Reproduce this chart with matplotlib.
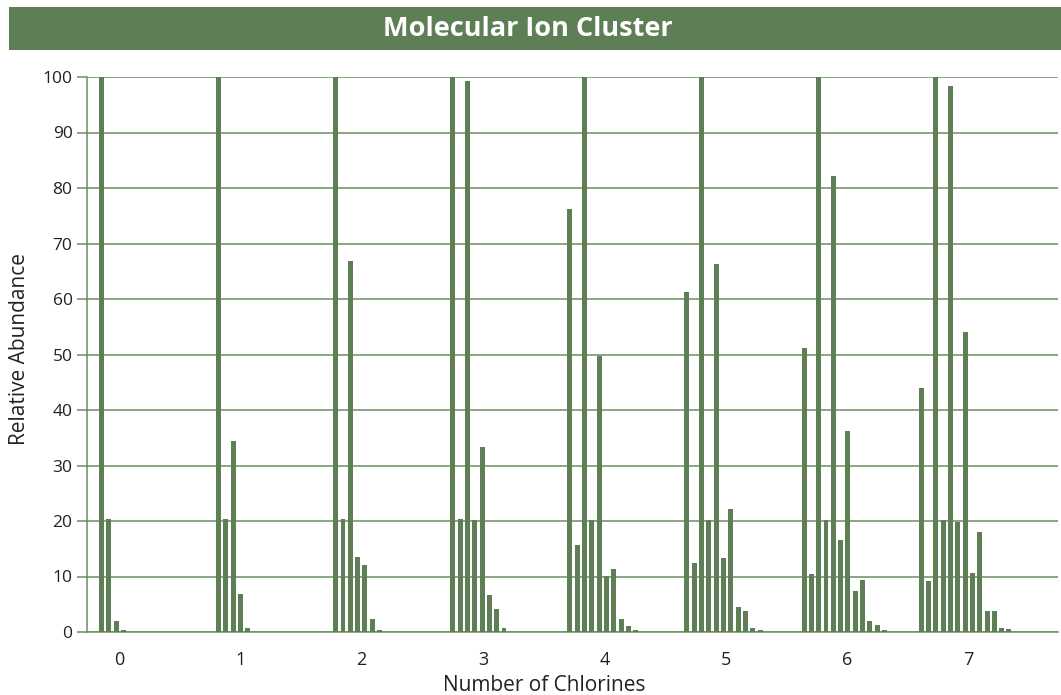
import matplotlib
matplotlib.use("Agg")
import matplotlib.pyplot as plt
from matplotlib.patches import Rectangle

plt.rcParams['font.family'] = ['Open Sans', 'DejaVu Sans']

chlorines = [0, 1, 2, 3, 4, 5, 6, 7]
cl0 = [100, 20.4, 2.0, 0.4]
cl1 = [100, 20.4, 34.5, 6.9, 0.7]
cl2 = [100, 20.4, 66.8, 13.6, 12.0, 2.4, 0.4]
cl3 = [100, 20.4, 99.3, 20.1, 33.4, 6.7, 4.2, 0.7]
cl4 = [76.2, 15.6, 100, 20.2, 49.8, 10.1, 11.4, 2.4, 1.1, 0.4]
cl5 = [61.2, 12.5, 100, 20.2, 66.3, 13.4, 22.2, 4.5, 3.8, 0.7, 0.4]
cl6 = [51.1, 10.5, 100, 20.2, 82.2, 16.6, 36.3, 7.3, 9.3, 1.9, 1.3, 0.4]
cl7 = [43.9, 9.1, 100, 20.2, 98.4, 19.9, 54.0, 10.7, 18.1, 3.7, 3.8, 0.7, 0.6]
clusters = [cl0, cl1, cl2, cl3, cl4, cl5, cl6, cl7]
yticks = [0, 10, 20, 30, 40, 50, 60, 70, 80, 90, 100]

GREEN = '#5E7F55'
GRID = '#6A8F60'

fig = plt.figure(figsize=(10.61, 6.95), dpi=100)
W, H = 1061, 695

# title banner
fig.patches.append(Rectangle((9 / W, 1 - 50 / H), 1 - 9 / W, 43 / H,
                             transform=fig.transFigure, facecolor=GREEN,
                             edgecolor='none', zorder=0))
fig.text(528 / W, 1 - 28.5 / H, 'Molecular Ion Cluster', color='white',
         fontsize=19.5, fontweight='bold', ha='center', va='center')

ax = fig.add_axes([86.5 / W, 1 - 632 / H, (1058 - 86.5) / W, (632 - 77) / H])

slot = 16
for n, vals in zip(chlorines, clusters):
    xs = [slot * n + k for k in range(len(vals))]
    ax.bar(xs, vals, width=0.68, color=GREEN, zorder=3, linewidth=0)

ax.set_ylim(0, 100)
ax.set_xlim(-2.05, 130.7)
ax.set_yticks(yticks)
ax.set_yticklabels([str(v) for v in yticks])
ax.set_xticks([2.39 + 16.58 * n for n in chlorines])
ax.set_xticklabels([str(n) for n in chlorines])

ax.yaxis.grid(True, color=GRID, linewidth=1.1, zorder=0)
ax.set_axisbelow(True)
for s in ['top', 'right']:
    ax.spines[s].set_visible(False)
for s in ['left', 'bottom']:
    ax.spines[s].set_color(GRID)
    ax.spines[s].set_linewidth(1.1)

ax.tick_params(axis='y', length=7, color=GRID, width=1.1, labelsize=12.5,
               labelcolor='#222222', pad=3)
ax.tick_params(axis='x', length=0, labelsize=13, labelcolor='#222222', pad=14)

ax.set_ylabel('Relative Abundance', fontsize=15, color='#222222', labelpad=9)
ax.set_xlabel('Number of Chlorines', fontsize=15, color='#222222', labelpad=4)
ax.xaxis.label.set_x(0.471)
ax.yaxis.label.set_y(0.51)

fig.savefig('out.png', dpi=100)
